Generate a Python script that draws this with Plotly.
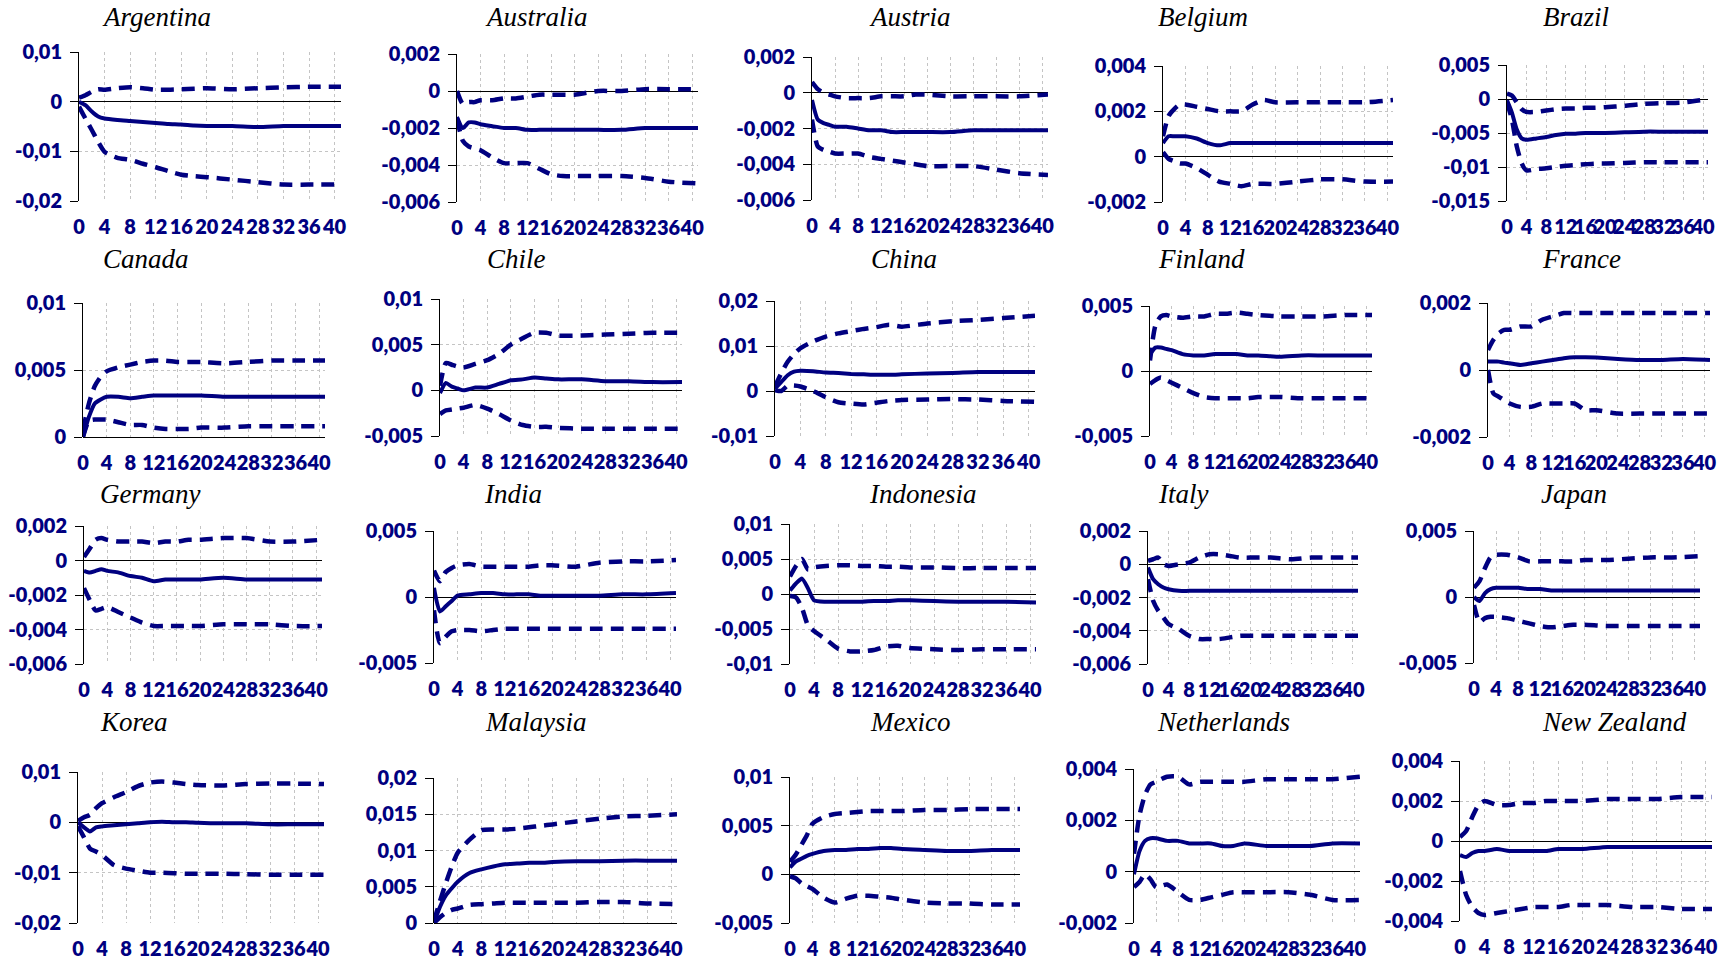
import plotly.graph_objects as go

# ---------------- data ----------------
X = [0, 1, 2, 3, 4, 6, 8, 10, 12, 14, 16, 18, 20, 24, 28, 32, 36, 41]
X_TICKS = [0, 4, 8, 12, 16, 20, 24, 28, 32, 36, 40]
X_TICK_TEXT = ["0", "4", "8", "12", "16", "20", "24", "28", "32", "36", "40"]

COUNTRIES = ["Argentina", "Australia", "Austria", "Belgium", "Brazil",
             "Canada", "Chile", "China", "Finland", "France",
             "Germany", "India", "Indonesia", "Italy", "Japan",
             "Korea", "Malaysia", "Mexico", "Netherlands", "New Zealand"]

ARG_MID = [0, -0.0007, -0.002, -0.003, -0.0034, -0.0037, -0.0039, -0.0041, -0.0043, -0.0045, -0.0046, -0.0048, -0.0049, -0.0049, -0.0051, -0.0049, -0.0049, -0.0049]
ARG_UP = [0.0008, 0.0013, 0.002, 0.0025, 0.0024, 0.0027, 0.0029, 0.0027, 0.0024, 0.0024, 0.0025, 0.0026, 0.0027, 0.0025, 0.0027, 0.0029, 0.003, 0.003]
ARG_LO = [-0.001, -0.0034, -0.0057, -0.0081, -0.0101, -0.0113, -0.0117, -0.0125, -0.0132, -0.014, -0.0147, -0.015, -0.0152, -0.0157, -0.0162, -0.0167, -0.0167, -0.0167]
ARG_YTICKS = [-0.02, -0.01, 0, 0.01]

AUS_MID = [-0.0014, -0.002, -0.0017, -0.0017, -0.0018, -0.0019, -0.002, -0.002, -0.0021, -0.0021, -0.0021, -0.0021, -0.0021, -0.0021, -0.0021, -0.002, -0.002, -0.002]
AUS_UP = [0.0, -0.0007, -0.0006, -0.0006, -0.0005, -0.0005, -0.0004, -0.0004, -0.0003, -0.0002, -0.0002, -0.0002, -0.0002, 0.0, 0.0, 0.0001, 0.0001, 0.0001]
AUS_LO = [-0.0015, -0.0027, -0.003, -0.0031, -0.0032, -0.0036, -0.0039, -0.0039, -0.0039, -0.0042, -0.0045, -0.0046, -0.0046, -0.0046, -0.0046, -0.0047, -0.0049, -0.005]
AUS_YTICKS = [-0.006, -0.004, -0.002, 0, 0.002]

AUT_MID = [-0.0004, -0.0015, -0.0017, -0.0018, -0.0019, -0.0019, -0.002, -0.0021, -0.0021, -0.0022, -0.0022, -0.0022, -0.0022, -0.0022, -0.0021, -0.0021, -0.0021, -0.0021]
AUT_UP = [0.0006, 0.0002, 0.0, -0.0001, -0.0002, -0.0003, -0.0003, -0.0003, -0.0002, -0.0002, -0.0002, -0.0001, -0.0001, -0.0002, -0.0002, -0.0002, -0.0002, -0.0001]
AUT_LO = [-0.0015, -0.003, -0.0032, -0.0033, -0.0034, -0.0034, -0.0034, -0.0036, -0.0037, -0.0038, -0.0039, -0.004, -0.0041, -0.0041, -0.0041, -0.0043, -0.0045, -0.0046]
AUT_YTICKS = [-0.006, -0.004, -0.002, 0, 0.002]

BEL_MID = [0.0006, 0.0009, 0.0009, 0.0009, 0.0009, 0.0008, 0.0006, 0.0005, 0.0006, 0.0006, 0.0006, 0.0006, 0.0006, 0.0006, 0.0006, 0.0006, 0.0006, 0.0006]
BEL_UP = [0.0009, 0.0018, 0.0021, 0.0023, 0.0023, 0.0022, 0.0021, 0.002, 0.002, 0.002, 0.0023, 0.0025, 0.0024, 0.0024, 0.0024, 0.0024, 0.0024, 0.0025]
BEL_LO = [0.0002, -0.0001, -0.0002, -0.0003, -0.0003, -0.0005, -0.0008, -0.0011, -0.0012, -0.0013, -0.0012, -0.0012, -0.0012, -0.0011, -0.001, -0.001, -0.0011, -0.0011]
BEL_YTICKS = [-0.002, 0, 0.002, 0.004]

BRA_MID = [-0.0002, -0.002, -0.0045, -0.0058, -0.006, -0.0058, -0.0056, -0.0053, -0.0051, -0.0051, -0.005, -0.005, -0.005, -0.0049, -0.0048, -0.0048, -0.0048, -0.0048]
BRA_UP = [0.0008, 0.0005, -0.0005, -0.0015, -0.0019, -0.0019, -0.0017, -0.0015, -0.0014, -0.0014, -0.0013, -0.0013, -0.0012, -0.001, -0.0007, -0.0006, -0.0005, 0.0]
BRA_LO = [-0.0005, -0.003, -0.007, -0.0095, -0.0105, -0.0103, -0.0102, -0.01, -0.0098, -0.0097, -0.0096, -0.0095, -0.0095, -0.0094, -0.0093, -0.0093, -0.0093, -0.0093]
BRA_YTICKS = [-0.015, -0.01, -0.005, 0, 0.005]

CAN_MID = [0.0, 0.0015, 0.0025, 0.0028, 0.003, 0.003, 0.0029, 0.003, 0.0031, 0.0031, 0.0031, 0.0031, 0.0031, 0.003, 0.003, 0.003, 0.003, 0.003]
CAN_UP = [0.0005, 0.0025, 0.0038, 0.0045, 0.0049, 0.0052, 0.0054, 0.0056, 0.0057, 0.0057, 0.0056, 0.0056, 0.0056, 0.0055, 0.0056, 0.0057, 0.0057, 0.0057]
CAN_LO = [0.0, 0.0012, 0.0013, 0.0013, 0.0013, 0.0011, 0.0009, 0.0009, 0.0007, 0.0006, 0.0006, 0.0006, 0.0007, 0.0007, 0.0008, 0.0008, 0.0008, 0.0008]
CAN_YTICKS = [0, 0.005, 0.01]

CHL_MID = [-0.0003, 0.0008, 0.0004, 0.0002, 0.0, 0.0003, 0.0003, 0.0007, 0.0011, 0.0012, 0.0014, 0.0013, 0.0012, 0.0012, 0.001, 0.001, 0.0009, 0.0009]
CHL_UP = [0.0005, 0.003, 0.0028, 0.0026, 0.0025, 0.0029, 0.0033, 0.004, 0.005, 0.0057, 0.0063, 0.0063, 0.006, 0.006, 0.0061, 0.0062, 0.0063, 0.0063]
CHL_LO = [-0.0026, -0.0022, -0.0021, -0.002, -0.0019, -0.0016, -0.002, -0.0026, -0.0033, -0.0038, -0.004, -0.004, -0.0041, -0.0042, -0.0042, -0.0042, -0.0042, -0.0042]
CHL_YTICKS = [-0.005, 0, 0.005, 0.01]

CHN_MID = [0.0005, 0.002, 0.0035, 0.0043, 0.0045, 0.0044, 0.0041, 0.004, 0.0038, 0.0037, 0.0036, 0.0036, 0.0037, 0.0039, 0.004, 0.0042, 0.0042, 0.0042]
CHN_UP = [0.001, 0.004, 0.0065, 0.0082, 0.0095, 0.011, 0.0121, 0.0128, 0.0133, 0.0138, 0.0142, 0.0147, 0.0143, 0.015, 0.0155, 0.0158, 0.0162, 0.0167]
CHN_LO = [0.0002, 0.0, 0.0012, 0.0012, 0.001, 0.0, -0.0014, -0.0025, -0.0028, -0.003, -0.0026, -0.0022, -0.002, -0.0019, -0.0018, -0.0019, -0.0022, -0.0024]
CHN_YTICKS = [-0.01, 0, 0.01, 0.02]

FIN_MID = [0.0013, 0.0018, 0.0018, 0.0017, 0.0016, 0.0013, 0.0012, 0.0012, 0.0013, 0.0013, 0.0013, 0.0012, 0.0012, 0.0011, 0.0012, 0.0012, 0.0012, 0.0012]
FIN_UP = [0.0008, 0.0035, 0.0042, 0.0043, 0.0042, 0.0041, 0.0042, 0.0042, 0.0044, 0.0044, 0.0045, 0.0044, 0.0043, 0.0042, 0.0042, 0.0042, 0.0043, 0.0043]
FIN_LO = [-0.001, -0.0007, -0.0005, -0.0007, -0.0009, -0.0013, -0.0017, -0.002, -0.0021, -0.0021, -0.0021, -0.0021, -0.002, -0.002, -0.0021, -0.0021, -0.0021, -0.0021]
FIN_YTICKS = [-0.005, 0, 0.005]

FRA_MID = [0.00025, 0.00025, 0.00025, 0.00022, 0.0002, 0.00015, 0.0002, 0.00025, 0.0003, 0.00035, 0.00038, 0.00038, 0.00037, 0.00033, 0.0003, 0.0003, 0.00033, 0.0003]
FRA_UP = [0.0006, 0.0009, 0.0011, 0.0012, 0.0012, 0.0013, 0.0013, 0.0015, 0.0016, 0.0017, 0.0017, 0.0017, 0.0017, 0.0017, 0.0017, 0.0017, 0.0017, 0.0017]
FRA_LO = [0.0, -0.0007, -0.0008, -0.0009, -0.001, -0.0011, -0.0011, -0.001, -0.001, -0.001, -0.001, -0.0012, -0.0012, -0.0013, -0.0013, -0.0013, -0.0013, -0.0013]
FRA_YTICKS = [-0.002, 0, 0.002]

DEU_MID = [-0.0006, -0.0007, -0.0006, -0.0005, -0.0006, -0.0007, -0.0009, -0.001, -0.0012, -0.0011, -0.0011, -0.0011, -0.0011, -0.001, -0.0011, -0.0011, -0.0011, -0.0011]
DEU_UP = [0.0002, 0.0007, 0.0012, 0.0013, 0.0012, 0.0011, 0.0011, 0.0011, 0.001, 0.0011, 0.0011, 0.0012, 0.0012, 0.0013, 0.0013, 0.0011, 0.0011, 0.0012]
DEU_LO = [-0.0016, -0.0023, -0.0029, -0.0028, -0.0027, -0.003, -0.0033, -0.0036, -0.0038, -0.0038, -0.0038, -0.0038, -0.0038, -0.0037, -0.0037, -0.0037, -0.0038, -0.0038]
DEU_YTICKS = [-0.006, -0.004, -0.002, 0, 0.002]

IND_MID = [0.0007, -0.0011, -0.0007, -0.0003, 0.0001, 0.0002, 0.0003, 0.0003, 0.0002, 0.0002, 0.0002, 0.0001, 0.0001, 0.0001, 0.0001, 0.0002, 0.0002, 0.0003]
IND_UP = [0.002, 0.0012, 0.0019, 0.0022, 0.0024, 0.0025, 0.0023, 0.0023, 0.0023, 0.0023, 0.0023, 0.0024, 0.0024, 0.0023, 0.0026, 0.0027, 0.0027, 0.0028]
IND_LO = [-0.001, -0.0035, -0.003, -0.0026, -0.0025, -0.0025, -0.0026, -0.0025, -0.0024, -0.0024, -0.0024, -0.0024, -0.0024, -0.0024, -0.0024, -0.0024, -0.0024, -0.0024]
IND_YTICKS = [-0.005, 0, 0.005]

IDN_MID = [0.0005, 0.0015, 0.0022, 0.0008, -0.0009, -0.0011, -0.0011, -0.0011, -0.0011, -0.001, -0.001, -0.0009, -0.0009, -0.001, -0.0011, -0.0011, -0.0011, -0.0012]
IDN_UP = [0.0025, 0.004, 0.005, 0.0035, 0.0038, 0.004, 0.0041, 0.0041, 0.004, 0.004, 0.0039, 0.0039, 0.0038, 0.0038, 0.0037, 0.0037, 0.0037, 0.0037]
IDN_LO = [-0.0003, -0.0005, -0.002, -0.0045, -0.0053, -0.0065, -0.0078, -0.0082, -0.0082, -0.008, -0.0075, -0.0074, -0.0077, -0.0079, -0.008, -0.0079, -0.0079, -0.0079]
IDN_YTICKS = [-0.01, -0.005, 0, 0.005, 0.01]

ITA_MID = [-0.0002, -0.0009, -0.0012, -0.0014, -0.0015, -0.0016, -0.0016, -0.0016, -0.0016, -0.0016, -0.0016, -0.0016, -0.0016, -0.0016, -0.0016, -0.0016, -0.0016, -0.0016]
ITA_UP = [0.0002, 0.0003, 0.0004, 0.0, -0.0001, 0.0, 0.0001, 0.0004, 0.0006, 0.0006, 0.0005, 0.0004, 0.0004, 0.0004, 0.0003, 0.0004, 0.0004, 0.0004]
ITA_LO = [-0.0009, -0.0022, -0.0028, -0.0032, -0.0036, -0.0039, -0.0043, -0.0045, -0.0045, -0.0045, -0.0044, -0.0043, -0.0043, -0.0043, -0.0043, -0.0043, -0.0043, -0.0043]
ITA_YTICKS = [-0.006, -0.004, -0.002, 0, 0.002]

JPN_MID = [0.0, -0.0003, 0.0003, 0.0006, 0.0007, 0.0007, 0.0007, 0.0006, 0.0006, 0.0005, 0.0005, 0.0005, 0.0005, 0.0005, 0.0005, 0.0005, 0.0005, 0.0005]
JPN_UP = [0.0007, 0.0012, 0.0022, 0.003, 0.0032, 0.0032, 0.003, 0.0027, 0.0027, 0.0027, 0.0027, 0.0027, 0.0028, 0.0028, 0.0029, 0.003, 0.003, 0.0031]
JPN_LO = [-0.0006, -0.0019, -0.0016, -0.0015, -0.0015, -0.0016, -0.0018, -0.002, -0.0022, -0.0023, -0.0022, -0.0021, -0.0021, -0.0022, -0.0022, -0.0022, -0.0022, -0.0022]
JPN_YTICKS = [-0.005, 0, 0.005]

KOR_MID = [0.0, -0.001, -0.0018, -0.001, -0.0008, -0.0006, -0.0004, -0.0002, 0.0, 0.0001, 0.0, 0.0, -0.0001, -0.0002, -0.0002, -0.0004, -0.0004, -0.0004]
KOR_UP = [0.0003, 0.001, 0.0015, 0.0028, 0.0038, 0.005, 0.006, 0.0072, 0.0079, 0.0081, 0.0079, 0.0076, 0.0074, 0.0073, 0.0076, 0.0077, 0.0077, 0.0076]
KOR_LO = [-0.0008, -0.003, -0.0052, -0.0058, -0.0065, -0.0085, -0.0092, -0.0096, -0.01, -0.01, -0.0101, -0.0102, -0.0102, -0.0102, -0.0103, -0.0104, -0.0104, -0.0104]
KOR_YTICKS = [-0.02, -0.01, 0, 0.01]

MYS_MID = [0.0, 0.0022, 0.0038, 0.0048, 0.0057, 0.0069, 0.0074, 0.0078, 0.0081, 0.0082, 0.0083, 0.0083, 0.0084, 0.0085, 0.0085, 0.0086, 0.0086, 0.0086]
MYS_UP = [0.0003, 0.003, 0.0055, 0.0078, 0.0097, 0.0115, 0.0128, 0.0129, 0.0129, 0.013, 0.0132, 0.0134, 0.0136, 0.014, 0.0144, 0.0147, 0.0148, 0.015]
MYS_LO = [0.0, 0.0008, 0.0014, 0.0018, 0.002, 0.0025, 0.0026, 0.0027, 0.0028, 0.0028, 0.0028, 0.0028, 0.0028, 0.0028, 0.0029, 0.0029, 0.0027, 0.0026]
MYS_YTICKS = [0, 0.005, 0.01, 0.015, 0.02]

MEX_MID = [0.0007, 0.0013, 0.0016, 0.0019, 0.0021, 0.0024, 0.0025, 0.0025, 0.0026, 0.0026, 0.0027, 0.0027, 0.0026, 0.0025, 0.0024, 0.0024, 0.0025, 0.0025]
MEX_UP = [0.0013, 0.002, 0.003, 0.004, 0.0052, 0.0059, 0.0062, 0.0063, 0.0064, 0.0065, 0.0065, 0.0065, 0.0065, 0.0066, 0.0066, 0.0067, 0.0067, 0.0067]
MEX_LO = [-0.0002, -0.0004, -0.0009, -0.0012, -0.0015, -0.0024, -0.0029, -0.0025, -0.0022, -0.0022, -0.0023, -0.0024, -0.0026, -0.0029, -0.003, -0.003, -0.0031, -0.0031]
MEX_YTICKS = [-0.005, 0, 0.005, 0.01]

NLD_MID = [-0.0001, 0.0008, 0.0012, 0.0013, 0.0013, 0.0012, 0.0012, 0.0011, 0.0011, 0.0011, 0.001, 0.001, 0.0011, 0.001, 0.001, 0.001, 0.0011, 0.0011]
NLD_UP = [0.0007, 0.0022, 0.003, 0.0034, 0.0035, 0.0037, 0.0037, 0.0034, 0.0035, 0.0035, 0.0035, 0.0035, 0.0035, 0.0036, 0.0036, 0.0036, 0.0036, 0.0037]
NLD_LO = [-0.0006, -0.0004, -0.0001, -0.0003, -0.0006, -0.0005, -0.0008, -0.0011, -0.0011, -0.001, -0.0009, -0.0008, -0.0008, -0.0008, -0.0008, -0.0009, -0.0011, -0.0011]
NLD_YTICKS = [-0.002, 0, 0.002, 0.004]

NZL_MID = [-0.0007, -0.0008, -0.0006, -0.0005, -0.0005, -0.0004, -0.0005, -0.0005, -0.0005, -0.0005, -0.0004, -0.0004, -0.0004, -0.0003, -0.0003, -0.0003, -0.0003, -0.0003]
NZL_UP = [0.0002, 0.0005, 0.0012, 0.0018, 0.002, 0.0018, 0.0018, 0.0019, 0.0019, 0.002, 0.002, 0.002, 0.002, 0.0021, 0.0021, 0.0021, 0.0022, 0.0022]
NZL_LO = [-0.0015, -0.0027, -0.0033, -0.0036, -0.0037, -0.0036, -0.0035, -0.0034, -0.0033, -0.0033, -0.0033, -0.0032, -0.0032, -0.0032, -0.0033, -0.0033, -0.0034, -0.0034]
NZL_YTICKS = [-0.004, -0.002, 0, 0.002, 0.004]

SERIES = [
    (ARG_MID, ARG_UP, ARG_LO, ARG_YTICKS), (AUS_MID, AUS_UP, AUS_LO, AUS_YTICKS),
    (AUT_MID, AUT_UP, AUT_LO, AUT_YTICKS), (BEL_MID, BEL_UP, BEL_LO, BEL_YTICKS),
    (BRA_MID, BRA_UP, BRA_LO, BRA_YTICKS), (CAN_MID, CAN_UP, CAN_LO, CAN_YTICKS),
    (CHL_MID, CHL_UP, CHL_LO, CHL_YTICKS), (CHN_MID, CHN_UP, CHN_LO, CHN_YTICKS),
    (FIN_MID, FIN_UP, FIN_LO, FIN_YTICKS), (FRA_MID, FRA_UP, FRA_LO, FRA_YTICKS),
    (DEU_MID, DEU_UP, DEU_LO, DEU_YTICKS), (IND_MID, IND_UP, IND_LO, IND_YTICKS),
    (IDN_MID, IDN_UP, IDN_LO, IDN_YTICKS), (ITA_MID, ITA_UP, ITA_LO, ITA_YTICKS),
    (JPN_MID, JPN_UP, JPN_LO, JPN_YTICKS), (KOR_MID, KOR_UP, KOR_LO, KOR_YTICKS),
    (MYS_MID, MYS_UP, MYS_LO, MYS_YTICKS), (MEX_MID, MEX_UP, MEX_LO, MEX_YTICKS),
    (NLD_MID, NLD_UP, NLD_LO, NLD_YTICKS), (NZL_MID, NZL_UP, NZL_LO, NZL_YTICKS),
]

# ---------------- layout (pixels) ----------------
W, H = 1732, 962
# plot-area boxes: left, right, top, bottom
BOXES = [
    (79, 341, 52, 201), (457, 698, 54, 202), (812, 1048, 57, 200), (1163, 1393, 66, 202), (1507, 1708, 65, 201),
    (83, 325, 303, 437), (440, 682, 299, 436), (775, 1035, 301, 436), (1150, 1372, 306, 436), (1488, 1710, 303, 437),
    (84, 322, 526, 664), (434, 676, 531, 663), (790, 1036, 524, 664), (1148, 1358, 531, 664), (1474, 1700, 531, 663),
    (78, 324, 772, 923), (434, 677, 778, 923), (790, 1020, 777, 923), (1134, 1360, 769, 923), (1460, 1712, 761, 921),
]
TITLE_POS = [
    (156, 17), (536, 17), (910, 17), (1203, 17), (1576, 17),
    (146, 259), (516, 259), (904, 259), (1201, 259), (1581, 259),
    (150, 494), (513, 494), (923, 494), (1183, 494), (1574, 494),
    (134, 722), (536, 722), (910, 722), (1223, 722), (1614, 722),
]

NAVY = "#000080"
TICK_FONT = dict(family="Lato, 'Open Sans', sans-serif", size=20, color=NAVY, weight=800)
TITLE_FONT = dict(family="'Liberation Serif', 'Times New Roman', serif", size=27, color="#000000", style="italic")
N = len(COUNTRIES)


def fmt(v):
    if v == 0:
        return "0"
    s = f"{abs(v):.3f}".rstrip("0").replace(".", ",")
    return ("-" if v < 0 else "") + s


fig = go.Figure()
annotations = []
for i, (name, (mid, up, lo, yt), box, tpos) in enumerate(zip(COUNTRIES, SERIES, BOXES, TITLE_POS), start=1):
    xa = "x" if i == 1 else f"x{i}"
    ya = "y" if i == 1 else f"y{i}"
    for vals, dash, wdt in ((lo, "13px,8px", 4.5), (up, "13px,8px", 4.5), (mid, "solid", 4)):
        fig.add_trace(go.Scatter(
            x=X, y=vals, mode="lines", xaxis=xa, yaxis=ya, showlegend=False,
            line=dict(color=NAVY, width=wdt, dash=dash, shape="spline", smoothing=0.6),
            hoverinfo="skip"))
    l, r, t, b = box
    y_lo, y_hi = 1 - b / H, 1 - t / H
    fig.layout[f"xaxis{'' if i == 1 else i}"] = dict(
        domain=[l / W, r / W], anchor=ya, range=[0, 41], automargin=False,
        tickmode="array", tickvals=X_TICKS, ticktext=X_TICK_TEXT, tickangle=0,
        showgrid=True, gridcolor="#c4c4c4", griddash="dot", gridwidth=1,
        zeroline=False, showline=False, ticks="", tickfont=TICK_FONT,
        ticklabelstandoff=12, fixedrange=True)
    fig.layout[f"yaxis{'' if i == 1 else i}"] = dict(
        domain=[y_lo, y_hi], anchor=xa, range=[yt[0], yt[-1]], automargin=False,
        tickmode="array", tickvals=yt, ticktext=[fmt(v) for v in yt],
        showgrid=True, gridcolor="#c4c4c4", griddash="dot", gridwidth=1,
        zeroline=True, zerolinecolor="#000000", zerolinewidth=1,
        showline=True, linecolor="#000000", linewidth=1,
        ticks="outside", ticklen=8, tickcolor="#000000", tickwidth=1,
        tickfont=TICK_FONT, ticklabelstandoff=4, fixedrange=True)
    # category-style tick marks hanging from the zero line
    zero_frac = (0 - yt[0]) / (yt[-1] - yt[0])
    fig.layout[f"xaxis{N + i}"] = dict(
        domain=[l / W, r / W], anchor="free", overlaying=xa,
        position=y_lo + zero_frac * (y_hi - y_lo), side="bottom",
        range=[0, 41], automargin=False, tickmode="array", tickvals=X_TICKS,
        ticks="outside", ticklen=5, tickcolor="#000000", tickwidth=1,
        showticklabels=False, showgrid=False, zeroline=False, showline=False,
        fixedrange=True)
    annotations.append(dict(text=name, x=tpos[0] / W, y=1 - tpos[1] / H, xref="paper", yref="paper",
                            xanchor="center", yanchor="middle", showarrow=False, font=TITLE_FONT))

fig.update_layout(width=W, height=H, margin=dict(l=0, r=0, t=0, b=0, autoexpand=False),
                  paper_bgcolor="white", plot_bgcolor="white",
                  annotations=annotations, showlegend=False)

fig.write_html("out.html", config={"displayModeBar": False})
